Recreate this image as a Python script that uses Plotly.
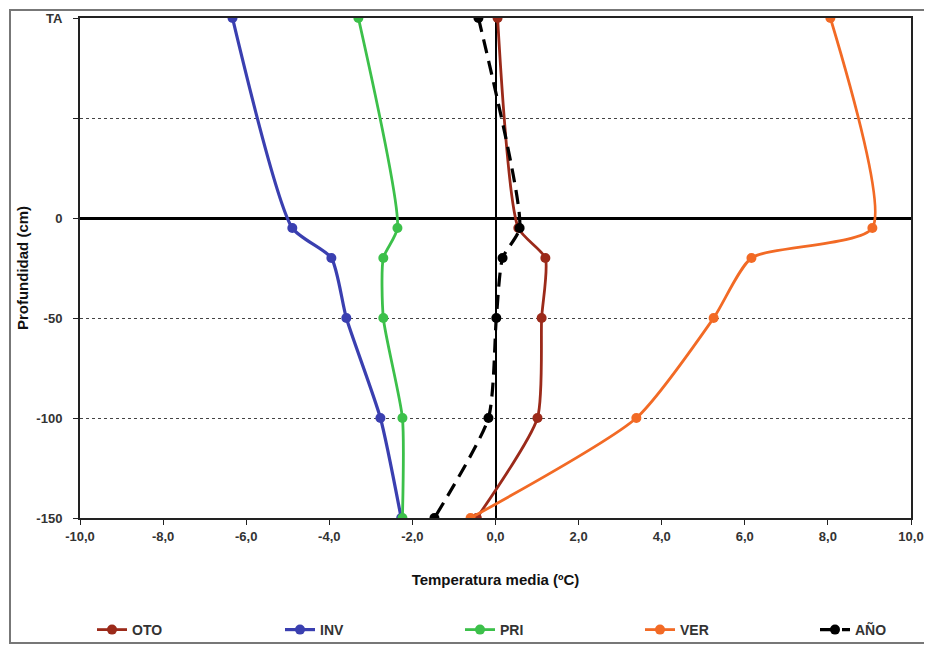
import plotly.graph_objects as go

# Depth levels (TA = air temperature plotted at +100)
depth = [100, -5, -20, -50, -100, -150]

oto = [0.05, 0.55, 1.20, 1.11, 1.01, -0.45]
inv = [-6.33, -4.89, -3.95, -3.59, -2.77, -2.27]
pri = [-3.30, -2.36, -2.70, -2.70, -2.24, -2.24]
ver = [8.06, 9.07, 6.16, 5.25, 3.39, -0.60]
ano = [-0.41, 0.58, 0.17, 0.02, -0.17, -1.47]

x_ticks = [-10, -8, -6, -4, -2, 0, 2, 4, 6, 8, 10]
x_labels = ["-10,0", "-8,0", "-6,0", "-4,0", "-2,0", "0,0", "2,0", "4,0", "6,0", "8,0", "10,0"]
y_ticks = [100, 50, 0, -50, -100, -150]
y_labels = ["TA", "", "0", "-50", "-100", "-150"]

series = [
    ("OTO", oto, "#9b2a1a", "solid", 2.8),
    ("INV", inv, "#3a3fb0", "solid", 3.2),
    ("PRI", pri, "#3cc04a", "solid", 2.8),
    ("VER", ver, "#f26a25", "solid", 2.8),
    ("AÑO", ano, "#000000", "14px,8px", 3.2),
]

# page body has an 8px margin; figure placed at (8,8) on screen
OFF = 8
PL, PT, PW, PH = 80, 18, 831, 500  # plot area in screen pixels

def px_x(sx):
    return (sx - PL) / PW

def px_y(sy):
    return (PT + PH - sy) / PH

legend_names = ["legend", "legend2", "legend3", "legend4", "legend5"]
legend_text_x = [132, 320, 500, 680, 855]

font_family = "Liberation Sans, Arial, sans-serif"

fig = go.Figure()
for (name, vals, col, dash, w), lg in zip(series, legend_names):
    fig.add_trace(go.Scatter(
        x=vals, y=depth, name=name, mode="lines+markers",
        line=dict(color=col, width=w, dash=dash, shape="spline", smoothing=0.6),
        marker=dict(color=col, size=10),
        legend=lg,
    ))

legend_layouts = {}
for lg, tx in zip(legend_names, legend_text_x):
    legend_layouts[lg] = dict(
        orientation="h", x=px_x(tx - 40), xanchor="left",
        y=px_y(630), yanchor="middle",
        font=dict(family=font_family, size=14, color="#333", weight="bold"),
        bgcolor="rgba(0,0,0,0)",
    )

fig.update_layout(
    width=932 - OFF, height=646 - OFF,
    margin=dict(l=PL - OFF, r=932 - PL - PW, t=PT - OFF,
                b=646 - PT - PH, autoexpand=False),
    paper_bgcolor="white", plot_bgcolor="white",
    font=dict(family=font_family, size=12, color="#222"),
    showlegend=True,
    xaxis=dict(
        range=[-10, 10], tickvals=x_ticks, ticktext=x_labels,
        showgrid=False, zeroline=True, zerolinecolor="black", zerolinewidth=2,
        showline=True, linecolor="#222", linewidth=2, mirror=True,
        ticks="outside", ticklen=5, tickcolor="#222",
        tickfont=dict(family=font_family, size=13, color="#333", weight="bold"),
        title=dict(text="<b>Temperatura media (ºC)</b>",
                   font=dict(family=font_family, size=15, color="#111"), standoff=32),
    ),
    yaxis=dict(
        range=[-150, 100], tickvals=y_ticks, ticktext=y_labels,
        showgrid=True, gridcolor="#444", griddash="dot", gridwidth=1,
        zeroline=True, zerolinecolor="black", zerolinewidth=2.5,
        showline=True, linecolor="#222", linewidth=2, mirror=True,
        ticks="outside", ticklen=5, tickcolor="#222", ticklabelstandoff=8,
        tickfont=dict(family=font_family, size=13, color="#333", weight="bold"),
        title=dict(text="<b>Profundidad (cm)</b>",
                   font=dict(family=font_family, size=15, color="#111"), standoff=4),
    ),
    shapes=[dict(type="rect", xref="paper", yref="paper",
                 x0=px_x(10), x1=px_x(928), y0=px_y(643), y1=px_y(10),
                 line=dict(color="#777", width=2))],
    **legend_layouts,
)

fig.write_html("out.html")
